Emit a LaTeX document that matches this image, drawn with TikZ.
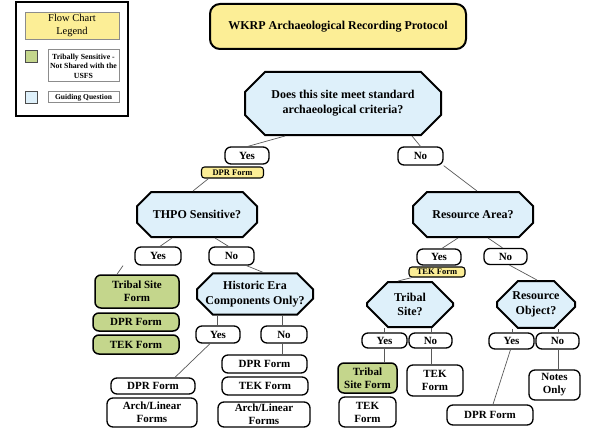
\documentclass[tikz,border=0pt]{standalone}
\usepackage{fontspec}
\setmainfont{Liberation Serif}
\usetikzlibrary{shapes.misc}
\definecolor{titleyellow}{RGB}{252,238,150}
\definecolor{questionblue}{RGB}{222,240,250}
\definecolor{tribalgreen}{RGB}{196,214,140}

\begin{document}
\begin{tikzpicture}[x=1pt, y=-1pt,
    sz/.style 2 args={minimum width=#1pt, minimum height=#2pt},
    question/.style={chamfered rectangle, chamfered rectangle xsep=10pt, chamfered rectangle ysep=10pt,
        draw, line width=2pt, fill=questionblue, align=center, inner sep=0pt,
        font=\bfseries\fontsize{12}{14.5}\selectfont},
    answer/.style={rectangle, rounded corners=6pt, draw, line width=1.3pt, fill=white, align=center,
        inner sep=0pt, font=\bfseries\fontsize{11}{13}\selectfont},
    formtag/.style={rectangle, rounded corners=3pt, draw, line width=1.1pt, fill=titleyellow,
        inner sep=0pt, font=\bfseries\fontsize{8.5}{9}\selectfont},
    tribal/.style={answer, fill=tribalgreen, line width=1.5pt},
    link/.style={draw=black!65, line width=0.7pt},
    legtext/.style={draw=black!45, line width=1pt, fill=white, align=center, inner sep=0pt,
        font=\bfseries\fontsize{7.8}{9.5}\selectfont}
]
    \useasboundingbox (0,0) rectangle (591,433);

    % --- 1. Legend ---
    \draw[line width=2pt] (16,2.5) rectangle (128,116.5);
    \node[draw=black!45, line width=0.6pt, fill=titleyellow, sz={94}{27}, align=center, inner sep=0pt,
        font=\fontsize{10.5}{12.5}\selectfont] (legtitle) at (72,25.5) {Flow Chart\\Legend};
    \node[draw=black!70, line width=0.8pt, fill=tribalgreen, sz={12}{12}, inner sep=0pt] (leggreen) at (31,56) {};
    \node[legtext, sz={71}{32}] (leggreentxt) at (83.5,66) {Tribally Sensitive -\\Not Shared with the\\USFS};
    \node[draw=black!70, line width=0.8pt, fill=questionblue, sz={12}{12}, inner sep=0pt] (legblue) at (31,97) {};
    \node[legtext, sz={71}{11}, font=\bfseries\fontsize{7.5}{9}\selectfont] (legbluetxt) at (83.5,97.5) {Guiding Question};

    % --- 2. Title and first question ---
    \node[rectangle, rounded corners=10pt, draw, line width=2pt, fill=titleyellow, sz={256}{45},
        font=\bfseries\fontsize{12}{14}\selectfont] (title) at (338,26.5) {WKRP Archaeological Recording Protocol};
    \node[question, sz={196}{63}, font=\bfseries\fontsize{12}{15}\selectfont] (siteq) at (343,103.5)
        {Does this site meet standard\\archaeological criteria?};

    \node[answer, sz={44}{17}] (siteyes) at (247,155.5) {Yes};
    \node[formtag, sz={62}{11}] (sitedpr) at (232.5,172.5) {DPR Form};
    \node[answer, sz={45}{18}] (siteno) at (420.5,156) {No};

    \draw[link] ([xshift=-58pt]siteq.south) -- ([xshift=1pt]siteyes.north);
    \draw[link] ([xshift=69pt]siteq.south) -- (siteno.north);

    % --- 3. Left branch: THPO ---
    \node[question, sz={120}{45}] (thpoq) at (197,214.5) {THPO Sensitive?};
    \draw[link] ([xshift=-24pt]sitedpr.south) -- ([xshift=-4pt]thpoq.north);

    \node[answer, sz={46}{18}] (thpoyes) at (158,256) {Yes};
    \node[answer, sz={45}{18}] (thpono) at (231.5,256) {No};
    \draw[link] ([xshift=-25pt]thpoq.south) -- ([xshift=2pt]thpoyes.north);
    \draw[link] ([xshift=18pt]thpoq.south) -- ([xshift=-3pt]thpono.north);

    \node[tribal, sz={84}{33}] (thpotsf) at (137,291.5) {Tribal Site\\Form};
    \node[tribal, sz={86}{18}] (thpodpr) at (136,322) {DPR Form};
    \node[tribal, sz={86}{19}] (thpotek) at (136,344.5) {TEK Form};
    \draw[link] ([xshift=-35pt]thpoyes.south) -- ([xshift=-20pt]thpotsf.north);

    \node[question, chamfered rectangle xsep=8pt, chamfered rectangle ysep=8pt, sz={116}{38}] (histq) at (255,294)
        {Historic Era\\Components Only?};
    \draw[link] ([xshift=15pt]thpono.south) -- ([xshift=8pt]histq.north);

    \node[answer, sz={44}{17}] (histyes) at (218,334.5) {Yes};
    \node[answer, sz={46}{17}] (histno) at (284,334.5) {No};
    \draw[link] (histyes.north -| 217,0) -- (histq.south -| 217,0);
    \draw[link] (histno.north -| 282,0) -- (histq.south -| 282,0);

    \node[answer, sz={85}{18}] (histnodpr) at (264.5,364) {DPR Form};
    \node[answer, sz={86}{18}] (histnotek) at (265,386) {TEK Form};
    \node[answer, sz={92}{25}] (histnoarch) at (264,414.5) {Arch/Linear\\Forms};
    \draw[link] (histno.south -| 282,0) -- (histnodpr.north -| 282,0);

    \node[answer, sz={84}{16}] (histyesdpr) at (153,386) {DPR Form};
    \node[answer, sz={90}{29}] (histyesarch) at (152,412.5) {Arch/Linear\\Forms};
    \draw[link] ([xshift=-8pt]histyes.south) -- ([xshift=22pt]histyesdpr.north);

    % --- 4. Right branch: resource area ---
    \node[question, sz={120}{45}] (areaq) at (473,214.5) {Resource Area?};
    \draw[link] (siteno.south east) -- ([xshift=4pt]areaq.north);

    \node[answer, sz={44}{16}] (areayes) at (439,257) {Yes};
    \node[formtag, sz={56}{10}] (areatek) at (437,272) {TEK Form};
    \node[answer, sz={43}{16}] (areano) at (505.5,256.5) {No};
    \draw[link] ([xshift=-15pt]areaq.south) -- ([xshift=3pt]areayes.north);
    \draw[link] ([xshift=15pt]areaq.south) -- ([xshift=-3pt]areano.north);

    \node[question, chamfered rectangle xsep=10pt, chamfered rectangle ysep=11pt, sz={86}{35}] (tribalq) at (410,304.5)
        {Tribal\\Site?};
    \draw[link] ([xshift=-25pt]areatek.south) -- ([xshift=-12pt]tribalq.north);

    \node[question, chamfered rectangle xsep=10pt, chamfered rectangle ysep=11pt, sz={78}{35}] (objectq) at (536,304.5)
        {Resource\\Object?};
    \draw[link] ([xshift=4pt]areano.south) -- ([xshift=1pt]objectq.north);

    \node[answer, sz={45}{15}] (tribalyes) at (384.5,340.5) {Yes};
    \node[answer, sz={43}{15}] (tribalno) at (430.5,340.5) {No};
    \draw[link] (tribalq.south -| 384,0) -- (tribalyes.north -| 384,0);
    \draw[link] (tribalq.south -| 431,0) -- (tribalno.north -| 431,0);

    \node[tribal, sz={59}{30}] (tribaltsf) at (367.5,378) {Tribal\\Site Form};
    \node[answer, sz={57}{30}] (tribaltek) at (367.5,412) {TEK\\Form};
    \node[answer, sz={56}{31}] (tribalnotek) at (435,380.5) {TEK\\Form};
    \draw[link] (tribalyes.south -| 384,0) -- (tribaltsf.north -| 384,0);
    \draw[link] (tribalno.south -| 431,0) -- (tribalnotek.north -| 431,0);

    \node[answer, sz={45}{16}] (objectyes) at (511.5,341) {Yes};
    \node[answer, sz={43}{16}] (objectno) at (557.5,341) {No};
    \draw[link] (objectq.south -| 512,0) -- (objectyes.north -| 512,0);
    \draw[link] (objectq.south -| 558,0) -- (objectno.north -| 558,0);

    \node[answer, sz={86}{20}] (objectdpr) at (490,415) {DPR Form};
    \node[answer, sz={51}{30}] (objectnotes) at (554.5,385) {Notes\\Only};
    \draw[link] ([xshift=-1pt]objectyes.south) -- ([xshift=3pt]objectdpr.north);
    \draw[link] (objectno.south -| 558,0) -- (objectnotes.north -| 558,0);

\end{tikzpicture}
\end{document}
